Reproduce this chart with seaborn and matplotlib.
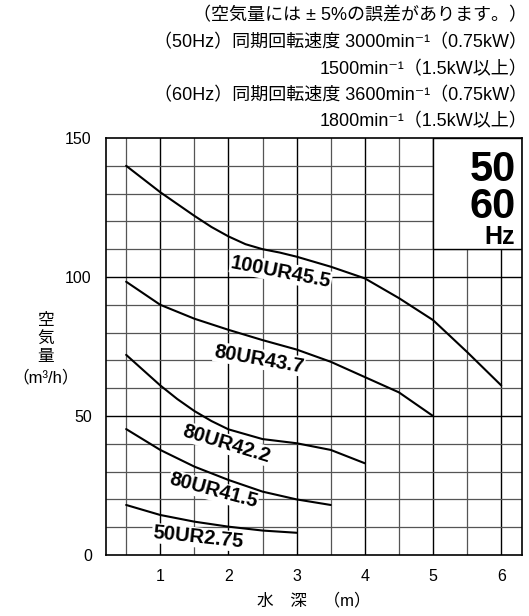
import numpy as np
import pandas as pd
import matplotlib
matplotlib.use('Agg')
import matplotlib.pyplot as plt
import seaborn as sns
from matplotlib.patches import Rectangle

# Air volume curves (depth in m -> air volume in m3/h)
depth_100 = [0.5, 1, 1.5, 1.75, 2, 2.25, 2.5, 2.75, 3, 3.5, 4, 4.5, 5, 5.5, 6]
air_100 = [140, 130.5, 122, 118, 114.6, 111.8, 110, 108.8, 107.3, 103.7, 99.5, 92.4, 84.5, 73, 61]

depth_437 = [0.5, 1, 1.5, 2, 2.5, 3, 3.5, 4, 4.5, 5]
air_437 = [98.3, 90, 85, 81, 77.3, 73.9, 69.5, 64, 58.5, 50]

depth_422 = [0.5, 1, 1.25, 1.5, 1.75, 2, 2.5, 3, 3.5, 4]
air_422 = [72, 61, 56.1, 51.8, 48.2, 45.2, 41.7, 40.2, 37.8, 33]

depth_415 = [0.5, 1, 1.5, 2, 2.5, 3, 3.5]
air_415 = [45.3, 37.8, 31.8, 27, 22.8, 20, 18]

depth_275 = [0.5, 1, 1.5, 2, 2.5, 3]
air_275 = [18, 14.4, 12, 10.2, 8.8, 8]

models = ['100UR45.5', '80UR43.7', '80UR42.2', '80UR41.5', '50UR2.75']
# label anchor (depth, air) and rotation
label_x = [2.77, 2.45, 1.97, 1.78, 1.55]
label_y = [101.8, 70.5, 40, 23.1, 6.3]
label_rot = [-11, -10, -17, -15, -6]

header_lines = [
    '（空気量には ± 5%の誤差があります。）',
    '（50Hz）同期回転速度 3000min⁻¹（0.75kW）',
    '1500min⁻¹（1.5kW以上）',
    '（60Hz）同期回転速度 3600min⁻¹（0.75kW）',
    '1800min⁻¹（1.5kW以上）',
]
header_y = [16, 43, 70, 96, 122]

x_ticks = [1, 2, 3, 4, 5, 6]
y_ticks = [0, 50, 100, 150]

sns.set_theme(style='white')
plt.rcParams['font.family'] = ['Liberation Sans', 'DejaVu Sans', 'Noto Sans CJK JP']
plt.rcParams['axes.unicode_minus'] = False
for key in ['text.color', 'axes.labelcolor', 'xtick.color', 'ytick.color']:
    plt.rcParams[key] = 'black'

# build long table for seaborn
frames = []
for name, d, a in zip(models,
                      [depth_100, depth_437, depth_422, depth_415, depth_275],
                      [air_100, air_437, air_422, air_415, air_275]):
    frames.append(pd.DataFrame({'depth': d, 'air': a, 'model': name}))
df = pd.concat(frames, ignore_index=True)

fig = plt.figure(figsize=(5.29, 6.16), dpi=100)
ax = fig.add_axes([0.1998, 0.099, 0.7864, 0.677])
ax.set_xlim(0.2, 6.3)
ax.set_ylim(0, 150)

# grid lines
for xv in np.arange(0.5, 6.01, 0.5):
    major = float(xv).is_integer()
    ax.axvline(xv, color='black' if major else '#555555', lw=1.0 if major else 0.9, zorder=1)
for yv in range(10, 150, 10):
    major = yv % 50 == 0
    ax.axhline(yv, color='black' if major else '#555555', lw=1.0 if major else 0.9, zorder=1)

# Hz box
ax.add_patch(Rectangle((5, 110), 1.3, 40, facecolor='white', edgecolor='black', lw=1.0, zorder=2))
ax.text(6.22, 145.5, '50', ha='right', va='top', fontsize=30, fontweight='bold', zorder=3)
ax.text(6.22, 132.5, '60', ha='right', va='top', fontsize=30, fontweight='bold', zorder=3)
ax.text(6.2, 118.7, 'Hz', ha='right', va='top', fontsize=18, fontweight='bold', zorder=3)

sns.lineplot(data=df, x='depth', y='air', units='model', estimator=None,
             color='black', lw=1.5, ax=ax, zorder=4)

for name, lx, ly, r in zip(models, label_x, label_y, label_rot):
    ax.text(lx, ly, name, ha='center', va='center', rotation=r, rotation_mode='anchor',
            fontsize=14.5, fontweight='bold', zorder=5,
            bbox=dict(facecolor='white', edgecolor='none', pad=0.5))

for s in ax.spines.values():
    s.set_color('black')
    s.set_linewidth(1.2)
    s.set_zorder(6)

ax.set_xticks(x_ticks)
ax.set_yticks(y_ticks)
ax.tick_params(length=0, labelsize=11.5, pad=10)
ax.set_xlabel('水　深　（m）', fontsize=12, labelpad=6)
ax.set_ylabel('')

fig.text(46 / 529, 1 - 339 / 616, '空\n気\n量', ha='center', va='center', fontsize=12,
         linespacing=1.25)
fig.text(46 / 529, 1 - 377 / 616, '（m³/h）', ha='center', va='center', fontsize=12)

for line, yy in zip(header_lines, header_y):
    fig.text(527 / 529, 1 - yy / 616, line, ha='right', va='center', fontsize=13)

fig.savefig('out.png', dpi=100)
